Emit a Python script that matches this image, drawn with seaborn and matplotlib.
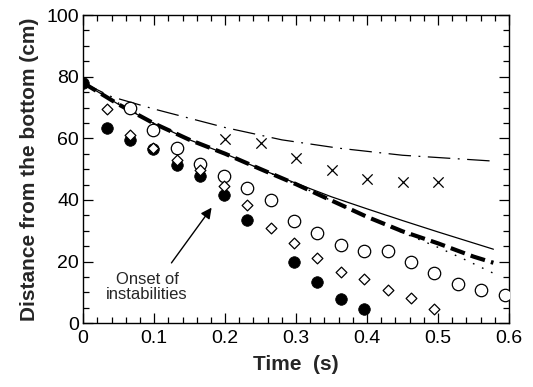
import numpy as np
import pandas as pd
import matplotlib
matplotlib.use("Agg")
import matplotlib.pyplot as plt
from matplotlib.ticker import MultipleLocator
import seaborn as sns

# ---- data ----
filled_t = [0.0, 0.033, 0.066, 0.099, 0.132, 0.165, 0.198, 0.231, 0.297, 0.33, 0.363, 0.396]
filled_d = [78, 63.2, 59.6, 56.4, 51.2, 47.8, 41.5, 33.5, 20.0, 13.5, 8.0, 4.6]

diamond_t = [0.033, 0.066, 0.099, 0.132, 0.165, 0.198, 0.231, 0.264, 0.297, 0.33,
             0.363, 0.396, 0.429, 0.462, 0.495]
diamond_d = [69.5, 61.2, 57.0, 52.8, 49.7, 44.5, 38.2, 31.0, 26.0, 21.2,
             16.5, 14.2, 10.8, 8.3, 4.5]

open_t = [0.066, 0.099, 0.132, 0.165, 0.198, 0.231, 0.264, 0.297, 0.33, 0.363,
          0.396, 0.429, 0.462, 0.495, 0.528, 0.561, 0.594]
open_d = [70.0, 62.6, 57.0, 51.5, 47.8, 44.0, 40.0, 33.0, 29.2, 25.5,
          23.5, 23.5, 20.0, 16.3, 12.7, 10.8, 9.0]

cross_t = [0.2, 0.25, 0.3, 0.35, 0.4, 0.45, 0.5]
cross_d = [59.7, 58.4, 53.6, 49.8, 46.7, 45.9, 45.9]

dash_t = [0, 0.05, 0.1, 0.15, 0.2, 0.25, 0.3, 0.35, 0.4, 0.45, 0.5, 0.55, 0.578]
dash_d = [78, 71.0, 64.8, 59.5, 55.0, 50.0, 45.1, 39.8, 34.5, 29.8, 25.9, 21.6, 19.6]

solid_t = [0, 0.05, 0.1, 0.15, 0.2, 0.25, 0.3, 0.35, 0.4, 0.45, 0.5, 0.578]
solid_d = [78, 71.0, 64.8, 59.5, 55.0, 50.0, 45.4, 41.0, 37.1, 33.3, 29.6, 24.0]

dot_t = [0, 0.1, 0.2, 0.3, 0.4, 0.45, 0.5, 0.54, 0.578]
dot_d = [78, 64.8, 55.0, 45.1, 34.4, 29.4, 24.6, 20.4, 16.2]

dashdot_t = [0, 0.04, 0.1, 0.15, 0.2, 0.28, 0.36, 0.45, 0.578]
dashdot_d = [78, 73.5, 69.5, 66.5, 63.5, 59.5, 56.8, 54.5, 52.6]

xticks = [0, 0.1, 0.2, 0.3, 0.4, 0.5, 0.6]
xtick_labels = ["0", "0.1", "0.2", "0.3", "0.4", "0.5", "0.6"]
yticks = [0, 20, 40, 60, 80, 100]
ytick_labels = ["0", "20", "40", "60", "80", "100"]

# ---- plot ----
sns.set_style("ticks")
plt.rcParams["font.family"] = ["Liberation Sans", "DejaVu Sans"]

fig = plt.figure(figsize=(5.33, 3.87), dpi=100)
ax = fig.add_axes([0.156, 0.165, 0.799, 0.796])

sns.lineplot(x=dashdot_t, y=dashdot_d, ax=ax, color="black", lw=0.9,
             linestyle=(0, (18, 6, 1.5, 6)), sort=False, estimator=None, zorder=2)
sns.lineplot(x=dot_t, y=dot_d, ax=ax, color="black", lw=1.0,
             linestyle=(0, (1.2, 6)), sort=False, estimator=None, zorder=2)
sns.lineplot(x=solid_t, y=solid_d, ax=ax, color="black", lw=0.9,
             sort=False, estimator=None, zorder=2)
sns.lineplot(x=dash_t, y=dash_d, ax=ax, color="black", lw=3.0,
             linestyle=(0, (3.6, 1.5)), sort=False, estimator=None, zorder=3)

sns.scatterplot(x=open_t, y=open_d, ax=ax, marker="o", s=80,
                facecolor="white", edgecolor="black", linewidth=0.9, zorder=4)
sns.scatterplot(x=filled_t, y=filled_d, ax=ax, marker="o", s=70,
                color="black", edgecolor="black", linewidth=0.5, zorder=5)
sns.scatterplot(x=diamond_t, y=diamond_d, ax=ax, marker="D", s=30,
                facecolor="white", edgecolor="black", linewidth=0.9, zorder=6)
sns.scatterplot(x=cross_t, y=cross_d, ax=ax, marker="x", s=55,
                color="black", linewidth=0.9, zorder=6)

ax.annotate("Onset of\ninstabilities", xy=(0.181, 37.5), xytext=(0.09, 11.7),
            ha="center", va="center", fontsize=12, linespacing=1.05,
            arrowprops=dict(arrowstyle="-|>", color="black", lw=1.0,
                            mutation_scale=16, relpos=(0.72, 1.0),
                            shrinkA=5, shrinkB=0))

ax.set_xlim(0, 0.6)
ax.set_ylim(0, 100)
ax.set_xticks(xticks)
ax.set_xticklabels(xtick_labels)
ax.set_yticks(yticks)
ax.set_yticklabels(ytick_labels)
ax.xaxis.set_minor_locator(MultipleLocator(0.02))
ax.yaxis.set_minor_locator(MultipleLocator(5))
ax.tick_params(which="both", direction="in", top=True, right=True,
               colors="black", width=0.9)
ax.tick_params(which="major", length=7, labelsize=14)
ax.tick_params(which="minor", length=4)
ax.tick_params(axis="x", which="major", pad=5)
ax.tick_params(axis="y", which="major", pad=3)
for s in ax.spines.values():
    s.set_visible(True)
    s.set_linewidth(1.0)
    s.set_color("black")

ax.set_xlabel("Time  (s)", fontsize=15, fontweight="bold", labelpad=6)
ax.set_ylabel("Distance from the bottom (cm)", fontsize=15, fontweight="bold",
              labelpad=5)

fig.savefig("out.png", dpi=100)
